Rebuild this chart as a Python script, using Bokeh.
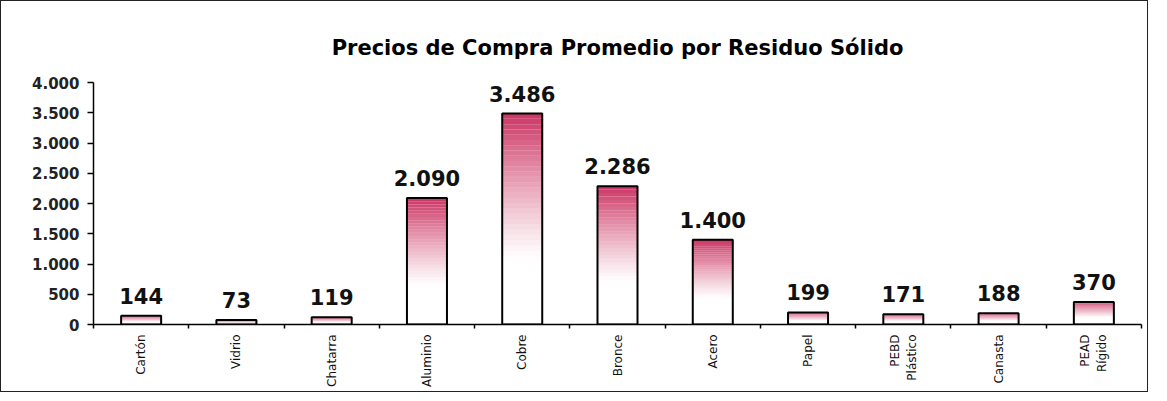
import math
from bokeh.plotting import figure
from bokeh.models import FixedTicker, LinearAxis, Range1d, ColumnDataSource, LabelSet
from bokeh.core.properties import value
from bokeh.embed import file_html
from bokeh.resources import INLINE

# ---------------- data ----------------
categories = ["Cartón", "Vidrio", "Chatarra", "Aluminio", "Cobre", "Bronce",
              "Acero", "Papel", "PEBD\nPlástico", "Canasta", "PEAD\nRígido"]
precios = [144, 73, 119, 2090, 3486, 2286, 1400, 199, 171, 188, 370]
precio_labels = ["144", "73", "119", "2.090", "3.486", "2.286", "1.400",
                 "199", "171", "188", "370"]
y_ticks = [0, 500, 1000, 1500, 2000, 2500, 3000, 3500, 4000]
y_tick_labels = ["0", "500", "1.000", "1.500", "2.000", "2.500", "3.000",
                 "3.500", "4.000"]

n = len(categories)
centers = [i + 0.5 for i in range(n)]
bounds = list(range(n + 1))
bar_w = 0.42
pink = "#c92a5c"
font = "DejaVu Sans"

p = figure(width=1148, height=392,
           x_range=Range1d(0, n), y_range=Range1d(0, 4000),
           output_backend="svg", toolbar_location=None,
           x_axis_location=None, y_axis_location=None,
           min_border_left=92, min_border_right=8,
           min_border_top=81, min_border_bottom=69)
p.styles = {"border": "1px solid #222222", "box-sizing": "border-box"}
p.xgrid.grid_line_color = None
p.ygrid.grid_line_color = None
p.outline_line_color = None
p.background_fill_color = "white"
p.border_fill_color = "white"

p.title.text = "Precios de Compra Promedio por Residuo Sólido"
p.title.text_font = font
p.title.text_font_size = "21px"
p.title.text_font_style = "bold"
p.title.align = "center"
p.title.text_color = "black"
p.title.standoff = 46

# ---------------- gradient bars ----------------
N = 40
seg_left, seg_right, seg_bottom, seg_top, seg_alpha = [], [], [], [], []
for c, v in zip(centers, precios):
    for j in range(N):
        t = (j + 0.5) / N
        a = max(0.0, (t - 0.3) / 0.7) ** 1.2 * 0.95
        seg_left.append(c - bar_w / 2)
        seg_right.append(c + bar_w / 2)
        seg_bottom.append(v * j / N)
        seg_top.append(v * (j + 1) / N)
        seg_alpha.append(a)
seg_src = ColumnDataSource(dict(left=seg_left, right=seg_right, bottom=seg_bottom,
                                top=seg_top, alpha=seg_alpha))
p.quad(left="left", right="right", bottom="bottom", top="top", source=seg_src,
       fill_color=pink, fill_alpha="alpha", line_color=None)

bar_src = ColumnDataSource(dict(x=centers, top=precios, lab=precio_labels))
p.vbar(x="x", top="top", bottom=0, width=bar_w, source=bar_src,
       fill_color=None, line_color="black", line_width=2)

labels = LabelSet(x="x", y="top", text="lab", source=bar_src, y_offset=12,
                  text_align="center", text_baseline="bottom",
                  text_font=value(font), text_font_size=value("21px"),
                  text_font_style="bold", text_color="#111111")
p.add_layout(labels)

# ---------------- axes ----------------
yaxis = LinearAxis(ticker=FixedTicker(ticks=y_ticks),
                   major_label_overrides={t: l for t, l in zip(y_ticks, y_tick_labels)})
yaxis.minor_tick_line_color = None
yaxis.major_tick_out = 6
yaxis.major_tick_in = 0
yaxis.axis_line_color = "black"
yaxis.axis_line_width = 1.5
yaxis.major_tick_line_width = 1.5
yaxis.major_label_text_font = font
yaxis.major_label_text_font_size = "15px"
yaxis.major_label_text_font_style = "bold"
yaxis.major_label_text_color = "#222222"
yaxis.major_label_standoff = 8
p.add_layout(yaxis, "left")

xaxis = LinearAxis(ticker=FixedTicker(ticks=centers, minor_ticks=bounds),
                   major_label_overrides={c: l for c, l in zip(centers, categories)})
xaxis.axis_line_color = "black"
xaxis.axis_line_width = 1.5
xaxis.major_tick_line_color = None
xaxis.major_tick_out = 0
xaxis.major_tick_in = 0
xaxis.minor_tick_line_color = "black"
xaxis.minor_tick_line_width = 1.5
xaxis.minor_tick_out = 4
xaxis.minor_tick_in = 0
xaxis.major_label_standoff = 6
xaxis.major_label_orientation = math.pi / 2
xaxis.major_label_text_font = font
xaxis.major_label_text_font_size = "12px"
xaxis.major_label_text_color = "#111111"
p.add_layout(xaxis, "below")

open("out.html", "w").write(file_html(p, INLINE))
